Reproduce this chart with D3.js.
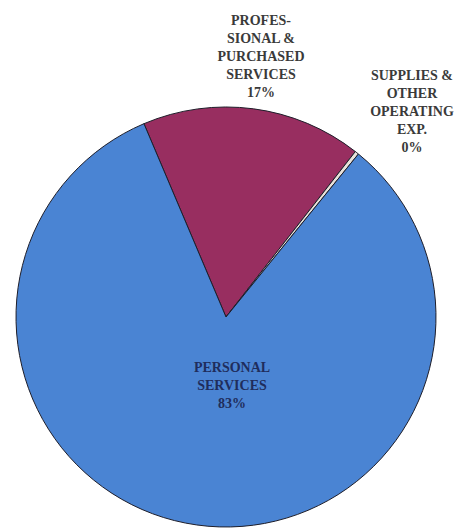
<!DOCTYPE html>
<html>
<head>
<meta charset="utf-8">
<script src="https://cdn.jsdelivr.net/npm/d3@7"></script>
<style>
  html, body { margin: 0; padding: 0; background: #ffffff; }
  svg { display: block; }
</style>
</head>
<body>
<svg id="chart" width="470" height="529"></svg>
<script>
// Expenditure categories, drawn clockwise from the top-left edge of the plum slice
const categories = ["PROFESSIONAL & PURCHASED SERVICES", "SUPPLIES & OTHER OPERATING EXP.", "PERSONAL SERVICES"];
const values = [17, 0.3, 83];
const labelLines = [
  ["PROFES-", "SIONAL &", "PURCHASED", "SERVICES"],
  ["SUPPLIES &", "OTHER", "OPERATING", "EXP."],
  ["PERSONAL", "SERVICES"]
];
const colors = ["#982e60", "#e9e2da", "#4a84d3"];

const width = 470, height = 529;
const cx = 226, cy = 317, radius = 210;
const svg = d3.select("#chart");

const total = d3.sum(values);
const pct = d3.format(".0%");

const start = -23 * Math.PI / 180;
const pie = d3.pie().sort(null).value(d => d.value)
  .startAngle(start).endAngle(start + 2 * Math.PI);
const data = categories.map((c, i) => ({ name: c, value: values[i], lines: labelLines[i], color: colors[i] }));
const arcs = pie(data);
const arc = d3.arc().innerRadius(0).outerRadius(radius);

const g = svg.append("g").attr("transform", `translate(${cx},${cy})`);
g.selectAll("path.slice")
  .data(arcs)
  .join("path")
  .attr("class", "slice")
  .attr("d", arc)
  .attr("fill", d => d.data.color)
  .attr("stroke", "#1e1e2a")
  .attr("stroke-width", 1)
  .attr("stroke-linejoin", "round");

// Label anchors (centre x, first-line baseline) per slice
const labelPos = [
  { x: 261, y: 25, fill: "#3a3a3a" },
  { x: 412, y: 80, fill: "#3a3a3a" },
  { x: 232, y: 372, fill: "#1f2d5c" }
];
const lineH = 18;

arcs.forEach((d, i) => {
  const p = labelPos[i];
  const lines = d.data.lines.concat([pct(d.data.value / total)]);
  const t = svg.append("text")
    .attr("text-anchor", "middle")
    .attr("font-family", "'Liberation Serif', 'Times New Roman', serif")
    .attr("font-size", 14)
    .attr("font-weight", "bold")
    .attr("fill", p.fill);
  lines.forEach((ln, k) => {
    t.append("tspan")
      .attr("x", p.x)
      .attr("y", p.y + k * lineH)
      .text(ln);
  });
});
</script>
</body>
</html>
